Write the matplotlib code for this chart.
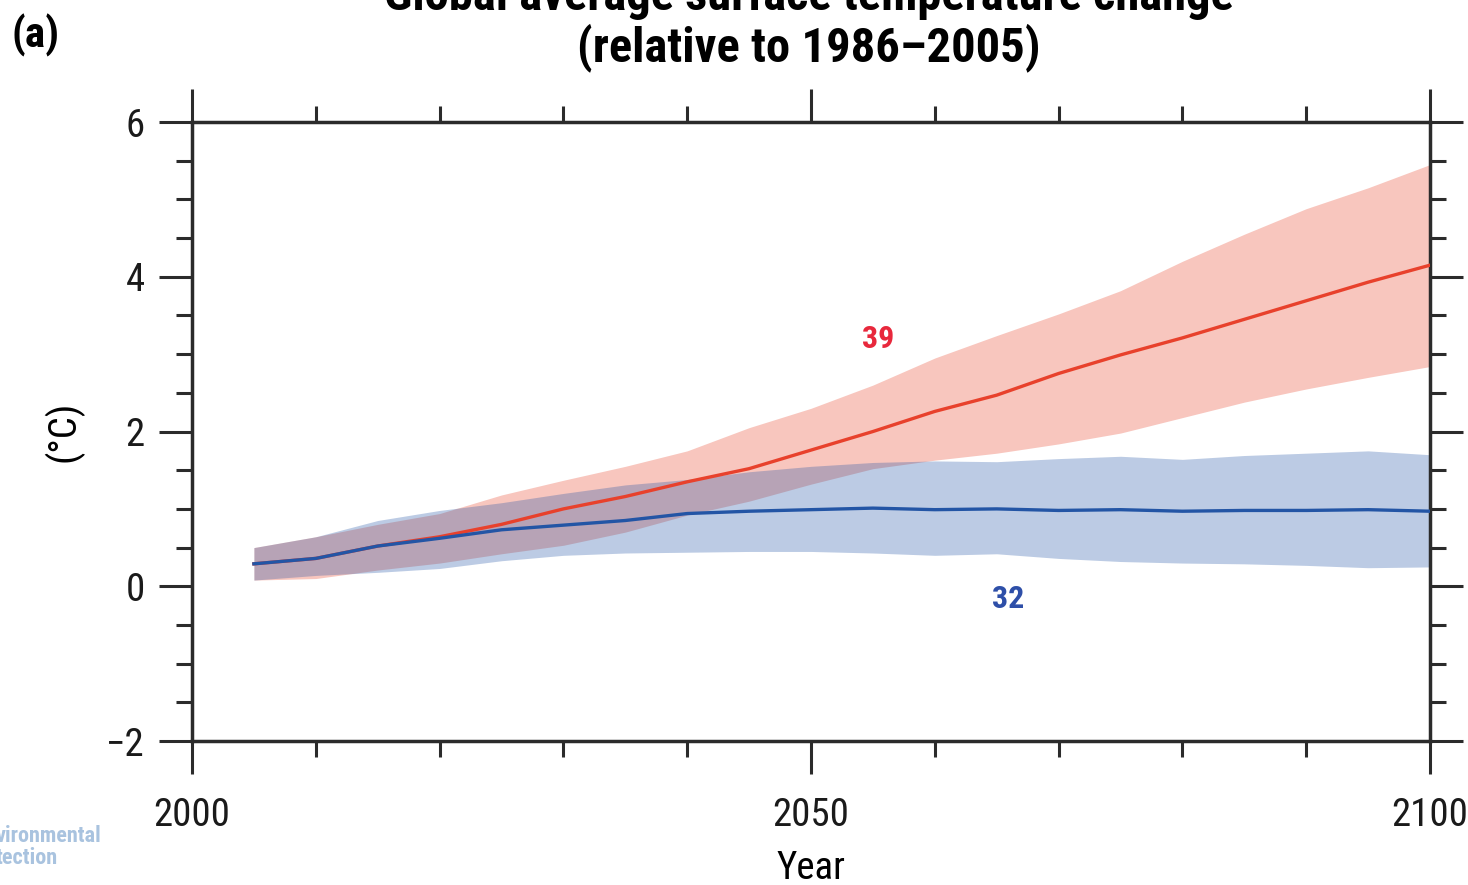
import os
import matplotlib
matplotlib.use("Agg")
import matplotlib.pyplot as plt
from matplotlib.ticker import MultipleLocator
from matplotlib import font_manager
from matplotlib.font_manager import FontProperties

years = [2005, 2010, 2015, 2020, 2025, 2030, 2035, 2040, 2045, 2050,
         2055, 2060, 2065, 2070, 2075, 2080, 2085, 2090, 2095, 2100]

rcp85_mean = [0.29, 0.36, 0.52, 0.64, 0.80, 1.00, 1.16, 1.35, 1.52, 1.76,
              2.00, 2.26, 2.47, 2.75, 2.99, 3.21, 3.45, 3.69, 3.93, 4.15]
rcp85_high = [0.50, 0.64, 0.80, 0.94, 1.18, 1.37, 1.55, 1.75, 2.05, 2.30,
              2.60, 2.95, 3.24, 3.52, 3.82, 4.20, 4.55, 4.88, 5.15, 5.45]
rcp85_low = [0.08, 0.10, 0.21, 0.30, 0.42, 0.53, 0.70, 0.92, 1.10, 1.32,
             1.52, 1.63, 1.72, 1.84, 1.98, 2.18, 2.38, 2.55, 2.70, 2.84]

rcp26_mean = [0.29, 0.36, 0.52, 0.62, 0.73, 0.79, 0.85, 0.94, 0.97, 0.99,
              1.01, 0.99, 1.00, 0.98, 0.99, 0.97, 0.98, 0.98, 0.99, 0.97]
rcp26_high = [0.50, 0.64, 0.85, 0.98, 1.08, 1.20, 1.31, 1.38, 1.48, 1.55,
              1.60, 1.62, 1.61, 1.65, 1.68, 1.64, 1.69, 1.72, 1.75, 1.70]
rcp26_low = [0.08, 0.14, 0.18, 0.23, 0.33, 0.40, 0.43, 0.44, 0.45, 0.45,
             0.43, 0.40, 0.42, 0.36, 0.32, 0.30, 0.29, 0.27, 0.24, 0.25]

label_85 = "39"
label_26 = "32"


def find_font(cands):
    files = {}
    for f in font_manager.fontManager.ttflist:
        files[os.path.basename(f.fname).lower()] = f.fname
    for fp_ in font_manager.findSystemFonts():
        files.setdefault(os.path.basename(fp_).lower(), fp_)
    for c in cands:
        for b, p in files.items():
            if b.startswith(c):
                return p
    return None


reg_path = find_font(['liberationsansnarrow-regular', 'notosans-condensed.',
                      'robotocondensed-regular', 'opensans-condensed',
                      'dejavusanscondensed.'])
bold_path = find_font(['liberationsansnarrow-bold.', 'notosans-condensedbold.',
                       'robotocondensed-bold.', 'opensans-condbold',
                       'dejavusanscondensed-bold.'])

plt.rcParams['font.family'] = ['Liberation Sans', 'DejaVu Sans']


def fp(size, bold=False):
    if bold and bold_path:
        return FontProperties(fname=bold_path, size=size)
    if not bold and reg_path:
        return FontProperties(fname=reg_path, size=size)
    scale = 0.88
    return FontProperties(family=['Liberation Sans', 'DejaVu Sans'],
                          weight='bold' if bold else 'normal', size=size * scale)


fig = plt.figure(figsize=(14.68, 8.85), dpi=100)
ax = fig.add_axes([0.1308, 0.1627, 0.8433, 0.6994])

ax.fill_between(years, rcp85_low, rcp85_high, color='#F8C6BE', lw=0, zorder=1)
ax.fill_between(years, rcp26_low, rcp26_high, color=(0.13, 0.33, 0.65), alpha=0.3, lw=0, zorder=2)
ax.plot(years, rcp85_mean, color='#E8412C', lw=2.4, zorder=3)
ax.plot(years, rcp26_mean, color='#2355A5', lw=2.4, zorder=4)

ax.text(2055.4, 3.2, label_85, color='#E8283C', fontproperties=fp(23, True),
        ha='center', va='center')
ax.text(2065.9, -0.16, label_26, color='#2E4FA8', fontproperties=fp(23, True),
        ha='center', va='center')

ax.set_xlim(2000, 2100)
ax.set_ylim(-2, 6)
ax.xaxis.set_major_locator(MultipleLocator(50))
ax.xaxis.set_minor_locator(MultipleLocator(10))
ax.yaxis.set_major_locator(MultipleLocator(2))
ax.yaxis.set_minor_locator(MultipleLocator(0.5))

for s in ax.spines.values():
    s.set_linewidth(2.5)
    s.set_color('#2b2b2b')

ax.tick_params(which='both', direction='out', top=True, right=True,
               labeltop=False, labelright=False, color='#2b2b2b', width=2.2)
ax.tick_params(which='major', length=24)
ax.tick_params(which='minor', length=11.5)
ax.tick_params(axis='x', which='major', pad=16)
ax.tick_params(axis='y', which='major', pad=10)

tick_fp = fp(28)
for lbl in ax.get_xticklabels() + ax.get_yticklabels():
    lbl.set_fontproperties(tick_fp)
    lbl.set_color('#1a1a1a')

ax.set_xlabel('Year', fontproperties=fp(28), labelpad=12)
ax.set_ylabel('(°C)', fontproperties=fp(28), labelpad=16)

fig.text(0.551, 1.004, 'Global average surface temperature change',
         fontproperties=fp(35, True), ha='center', va='center')
fig.text(0.551, 0.946, '(relative to 1986\u20132005)',
         fontproperties=fp(35, True), ha='center', va='center')
fig.text(0.024, 0.960, '(a)', fontproperties=fp(31, True), ha='center', va='center')

fig.text(-0.003, 0.055, 'vironmental', fontproperties=fp(16, True),
         color='#A9C3DF', ha='left', va='center')
fig.text(-0.003, 0.031, 'tection', fontproperties=fp(16, True),
         color='#A9C3DF', ha='left', va='center')

fig.savefig('out.png', dpi=100)
